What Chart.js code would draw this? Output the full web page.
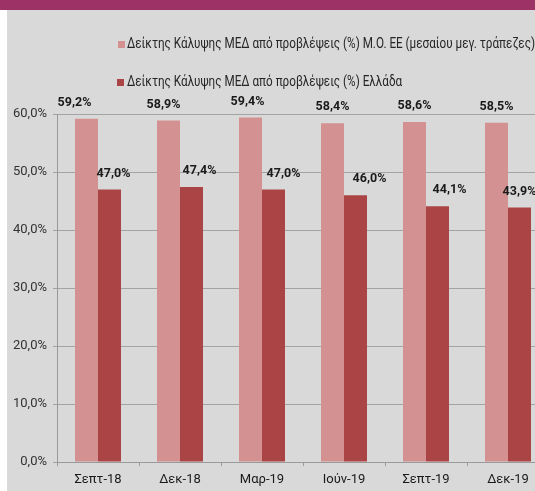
<!DOCTYPE html>
<html>
<head>
<meta charset="utf-8">
<script src="https://cdn.jsdelivr.net/npm/chart.js@4"></script>
<style>
  html, body { margin: 0; padding: 0; background: #fff; overflow: hidden; }
  body { width: 535px; height: 491px; position: relative; }
  .topbar { position: absolute; left: 0; top: 0; width: 535px; height: 10px; background: #9c3265; }
  .panel { position: absolute; left: 7px; top: 10px; width: 542px; height: 481px; background: #d9d9d9; }
  #chart { display: block; }
</style>
</head>
<body>
<div class="topbar"></div>
<div class="panel">
  <canvas id="chart" width="542" height="481"></canvas>
</div>
<script>
// Data
const categories = ["Σεπτ-18", "Δεκ-18", "Μαρ-19", "Ιούν-19", "Σεπτ-19", "Δεκ-19"];
const euValues = [59.2, 58.9, 59.4, 58.4, 58.6, 58.5];
const greeceValues = [47.0, 47.4, 47.0, 46.0, 44.1, 43.9];
const seriesNames = [
  "Δείκτης Κάλυψης ΜΕΔ από προβλέψεις (%) Μ.Ο. ΕΕ (μεσαίου μεγ. τράπεζες)",
  "Δείκτης Κάλυψης ΜΕΔ από προβλέψεις (%) Ελλάδα"
];
const yTicks = [0, 10, 20, 30, 40, 50, 60];

// label nudges (px) so they sit like the original
const euLabelShift = [-12, -5, -3, 0, 0, 0];
const grLabelShift = [4, 8, 10, 14, 12, 0];

const pink = "#d39191";
const darkRed = "#ab4545";
const fontFamily = 'Roboto, "Noto Sans", sans-serif';

function fmt(v) {
  return v.toFixed(1).replace(".", ",") + "%";
}

// Data labels above bars
const valueLabels = {
  id: "valueLabels",
  afterDatasetsDraw(chart) {
    const ctx = chart.ctx;
    ctx.save();
    ctx.font = "bold 12.5px " + fontFamily;
    ctx.fillStyle = "#1a1a1a";
    ctx.textAlign = "center";
    ctx.textBaseline = "middle";
    chart.data.datasets.forEach((ds, i) => {
      const meta = chart.getDatasetMeta(i);
      const shifts = i === 0 ? euLabelShift : grLabelShift;
      meta.data.forEach((bar, j) => {
        ctx.fillText(fmt(ds.data[j]), bar.x + shifts[j], bar.y - 16);
      });
    });
    ctx.restore();
  }
};

// Legend drawn in two rows like the original (condensed text, like Calibri)
const legendRows = {
  id: "legendRows",
  afterDraw(chart) {
    const ctx = chart.ctx;
    ctx.save();
    ctx.font = "14px " + fontFamily;
    const w = ctx.measureText(seriesNames[0]).width;
    const sx = Math.min(1, 408 / w);
    ctx.textBaseline = "middle";
    const rows = [
      { x: 111, y: 34, color: pink, text: seriesNames[0] },
      { x: 110, y: 72, color: darkRed, text: seriesNames[1] }
    ];
    rows.forEach(r => {
      ctx.fillStyle = r.color;
      ctx.fillRect(r.x, r.y - 3, 7, 7);
      ctx.save();
      ctx.translate(120, r.y);
      ctx.scale(sx, 1);
      ctx.fillStyle = "#262626";
      ctx.fillText(r.text, 0, 0);
      ctx.restore();
    });
    ctx.restore();
  }
};

new Chart(document.getElementById("chart"), {
  type: "bar",
  data: {
    labels: categories,
    datasets: [
      { label: seriesNames[0], data: euValues, backgroundColor: pink },
      { label: seriesNames[1], data: greeceValues, backgroundColor: darkRed }
    ]
  },
  options: {
    responsive: false,
    animation: false,
    layout: { padding: { top: 104, left: 0, right: 0, bottom: 0 } },
    datasets: {
      bar: { categoryPercentage: 0.561, barPercentage: 1.0 }
    },
    plugins: {
      legend: { display: false },
      tooltip: { enabled: false }
    },
    scales: {
      x: {
        grid: {
          offset: true,
          drawOnChartArea: false,
          drawTicks: true,
          tickLength: 4,
          color: "#9a9a9a"
        },
        border: { color: "#9a9a9a" },
        ticks: {
          color: "#1a1a1a",
          font: { family: fontFamily, size: 13 },
          padding: 6,
          maxRotation: 0
        },
        afterFit(scale) { scale.height = 29; }
      },
      y: {
        min: 0,
        max: 60,
        afterBuildTicks(scale) {
          scale.ticks = yTicks.map(v => ({ value: v }));
        },
        grid: {
          color: "#a3a3a3",
          tickLength: 4
        },
        border: { color: "#9a9a9a" },
        ticks: {
          color: "#333333",
          font: { family: fontFamily, size: 13 },
          padding: 6,
          callback: v => fmt(v)
        },
        afterFit(scale) { scale.width = 50; }
      }
    }
  },
  plugins: [valueLabels, legendRows]
});
</script>
</body>
</html>
